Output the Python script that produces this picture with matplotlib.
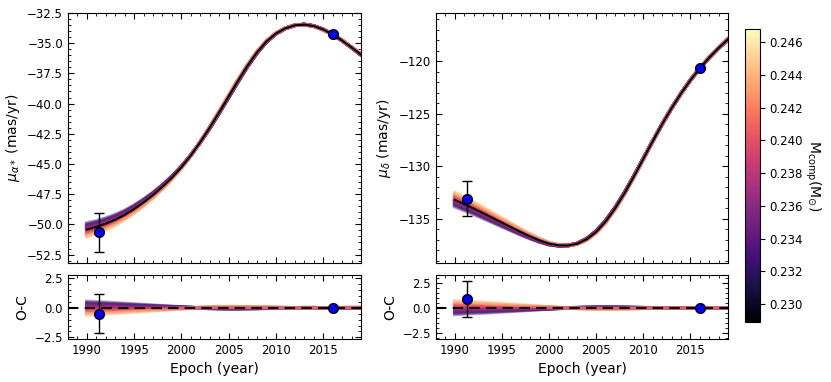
import numpy as np
import matplotlib
matplotlib.use("Agg")
import matplotlib.pyplot as plt
from matplotlib.ticker import MultipleLocator
from matplotlib.colors import Normalize
from matplotlib.cm import ScalarMappable

# model epochs (yearly)
epochs = [1990, 1991, 1992, 1993, 1994, 1995, 1996, 1997, 1998, 1999,
          2000, 2001, 2002, 2003, 2004, 2005, 2006, 2007, 2008, 2009,
          2010, 2011, 2012, 2013, 2014, 2015, 2016, 2017, 2018, 2019]

# best-fit proper motion curves (mas/yr)
pmra_best = [-50.43, -50.21, -49.94, -49.61, -49.21, -48.73, -48.18, -47.57, -46.89, -46.13,
             -45.27, -44.29, -43.19, -41.99, -40.72, -39.41, -38.10, -36.86, -35.76, -34.86,
             -34.20, -33.77, -33.52, -33.46, -33.58, -33.86, -34.27, -34.78, -35.35, -35.95]
pmdec_best = [-133.20, -133.60, -134.02, -134.46, -134.91, -135.36, -135.81, -136.25, -136.67, -137.05,
              -137.36, -137.52, -137.54, -137.36, -136.94, -136.24, -135.26, -134.02, -132.57, -130.97,
              -129.29, -127.61, -125.99, -124.47, -123.07, -121.80, -120.67, -119.65, -118.73, -117.89]

# offset of the heaviest-mass curve from the best fit
pmra_spread = [-0.67, -0.62, -0.57, -0.51, -0.45, -0.39, -0.33, -0.27, -0.21, -0.15,
               -0.09, -0.03, 0.02, 0.07, 0.10, 0.12, 0.12, 0.10, 0.08, 0.05,
               0.03, 0.01, 0.00, -0.01, -0.01, 0.00, 0.00, 0.01, 0.02, 0.03]
pmdec_spread = [0.80, 0.74, 0.68, 0.62, 0.55, 0.48, 0.41, 0.34, 0.27, 0.20,
                0.13, 0.06, 0.00, -0.05, -0.09, -0.12, -0.13, -0.12, -0.10, -0.07,
                -0.04, -0.02, -0.01, 0.00, 0.00, 0.00, 0.00, 0.01, 0.02, 0.03]

# companion mass samples (Msun)
masses = [0.2372, 0.2351, 0.2398, 0.2419, 0.2336, 0.2385, 0.2362, 0.2441, 0.2344, 0.2407,
          0.2378, 0.2326, 0.2392, 0.2357, 0.2428, 0.2368, 0.2412, 0.2340, 0.2383, 0.2452,
          0.2365, 0.2401, 0.2348, 0.2434, 0.2375, 0.2318, 0.2389, 0.2359, 0.2423, 0.2370,
          0.2395, 0.2331, 0.2415, 0.2381, 0.2354, 0.2446, 0.2404, 0.2363, 0.2387, 0.2438]
mass_best = 0.2380
mass_scale = 0.0075

# observations (Hipparcos, Gaia)
obs_epoch = [1991.25, 2016.0]
obs_pmra = [-50.66, -34.25]
obs_pmra_err = [1.64, 0.05]
obs_pmdec = [-133.07, -120.67]
obs_pmdec_err = [1.65, 0.05]
oc_pmra = [-0.49, 0.0]
oc_pmra_err = [1.63, 0.05]
oc_pmdec = [0.91, 0.0]
oc_pmdec_err = [1.82, 0.05]

plt.rcParams['font.family'] = 'DejaVu Sans'

t = np.array(epochs)
norm = Normalize(vmin=0.2289, vmax=0.2468)
cmap = plt.get_cmap('magma')


def style(ax, ymaj, ymin):
    ax.tick_params(which='both', direction='in', top=True, right=True, labelsize=8.5)
    ax.tick_params(which='major', length=4)
    ax.tick_params(which='minor', length=2)
    ax.xaxis.set_major_locator(MultipleLocator(5))
    ax.xaxis.set_minor_locator(MultipleLocator(1))
    ax.yaxis.set_major_locator(MultipleLocator(ymaj))
    ax.yaxis.set_minor_locator(MultipleLocator(ymin))
    ax.set_xlim(1988, 2019)


def panel(ax, ax2, best, spread, o, oerr, oc, ocerr, ylab):
    best = np.array(best)
    spread = np.array(spread)
    for m in masses:
        k = (m - mass_best) / mass_scale
        c = cmap(norm(m))
        ax.plot(t, best + k * spread, color=c, lw=2.6, alpha=0.3)
        ax2.plot(t, k * spread, color=c, lw=2.6, alpha=0.3)
    ax.plot(t, best, color='k', lw=1.5)
    ax2.axhline(0, color='k', ls='--', lw=1.5, dashes=(5, 3))
    ax.errorbar(obs_epoch, o, yerr=oerr, fmt='o', color='k', mfc='blue', mec='k',
                ms=7, capsize=3.5, elinewidth=1, zorder=5)
    ax2.errorbar(obs_epoch, oc, yerr=ocerr, fmt='o', color='k', mfc='blue', mec='k',
                 ms=7, capsize=3.5, elinewidth=1, zorder=5)
    ax.set_ylabel(ylab, fontsize=10)
    ax2.set_ylabel('O-C', fontsize=10)
    ax2.set_xlabel('Epoch (year)', fontsize=10)
    ax.tick_params(labelbottom=False)


fig = plt.figure(figsize=(8.31, 3.82), dpi=100)
ax1 = fig.add_axes([0.0818, 0.3115, 0.3526, 0.6545])
ax1b = fig.add_axes([0.0818, 0.1126, 0.3526, 0.1675])
ax2 = fig.add_axes([0.5247, 0.3115, 0.3514, 0.6545])
ax2b = fig.add_axes([0.5247, 0.1126, 0.3514, 0.1675])
cax = fig.add_axes([0.8965, 0.1571, 0.018, 0.767])

panel(ax1, ax1b, pmra_best, pmra_spread, obs_pmra, obs_pmra_err, oc_pmra, oc_pmra_err,
      r'$\mu_{\alpha*}$ (mas/yr)')
panel(ax2, ax2b, pmdec_best, pmdec_spread, obs_pmdec, obs_pmdec_err, oc_pmdec, oc_pmdec_err,
      r'$\mu_{\delta}$ (mas/yr)')

style(ax1, 2.5, 0.5)
ax1.set_ylim(-53.2, -32.5)
style(ax1b, 2.5, 0.5)
ax1b.set_ylim(-2.64, 2.78)
style(ax2, 5, 1)
ax2.set_ylim(-139.2, -115.4)
style(ax2b, 2.5, 0.5)
ax2b.set_ylim(-3.14, 3.34)

sm = ScalarMappable(norm=norm, cmap=cmap)
cb = fig.colorbar(sm, cax=cax)
cb.set_ticks(np.arange(0.230, 0.2465, 0.002))
cb.ax.tick_params(labelsize=8.5)
cb.set_label(r'M$_{\rm comp}$(M$_{\odot}$)', rotation=270, labelpad=14, fontsize=10)

fig.savefig('out.png', dpi=100)
